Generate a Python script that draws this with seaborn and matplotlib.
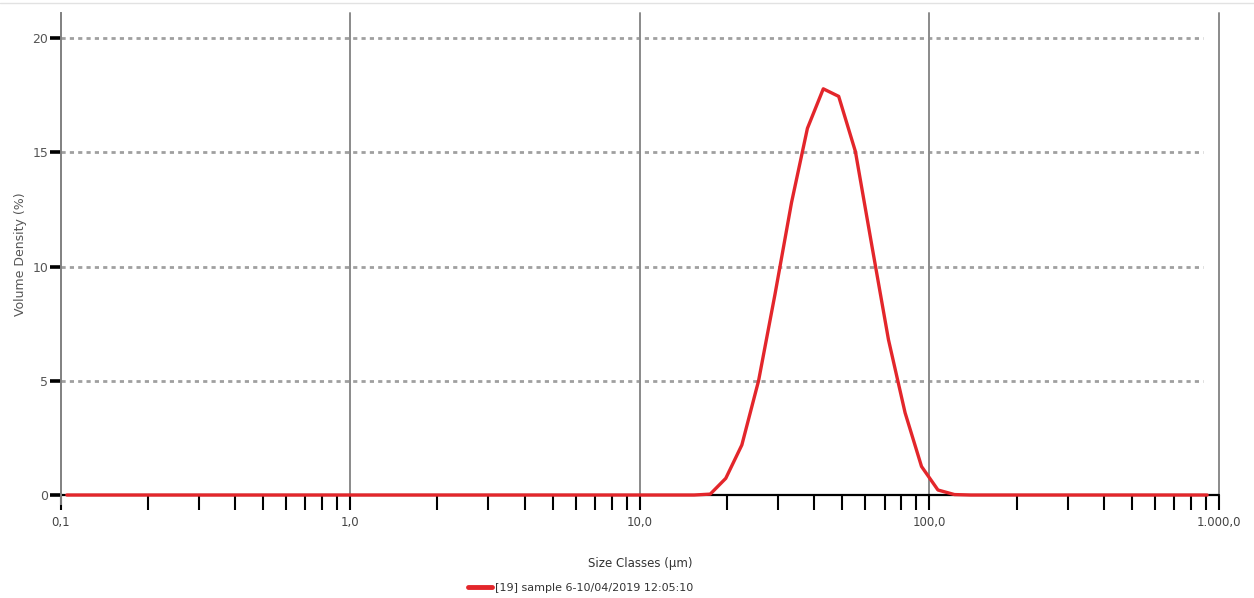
import numpy as np
import pandas as pd
import matplotlib
matplotlib.use("Agg")
import matplotlib.pyplot as plt
from matplotlib.lines import Line2D
from matplotlib.ticker import FixedLocator, FixedFormatter, NullFormatter
import seaborn as sns

# ---- data ----
size_um = [0.105, 0.3, 1.0, 3.0, 10.0, 15.4, 17.5, 19.8, 22.5, 25.7, 29.3, 33.4, 37.9,
           43.0, 48.6, 55.5, 63.3, 72.2, 82.4, 93.9, 107.0, 122.0, 139.0, 158.0,
           300.0, 600.0, 910.0]
volume_density = [0.0, 0.0, 0.0, 0.0, 0.0, 0.0, 0.04, 0.73, 2.19, 5.0, 8.8, 12.8, 16.05,
                  17.78, 17.45, 15.04, 10.9, 6.8, 3.6, 1.25, 0.22, 0.02, 0.0, 0.0,
                  0.0, 0.0, 0.0]
series_name = "[19] sample 6-10/04/2019 12:05:10"
x_major = [0.1, 1.0, 10.0, 100.0, 1000.0]
x_major_labels = ["0,1", "1,0", "10,0", "100,0", "1.000,0"]
y_ticks = [0, 5, 10, 15, 20]
y_tick_labels = ["0", "5", "10", "15", "20"]

df = pd.DataFrame({"size": size_um, "vd": volume_density, "series": series_name})

sns.set_theme(style="white")
plt.rcParams['font.family'] = ['DejaVu Sans']

fig = plt.figure(figsize=(12.54, 5.98), dpi=100)
ax = fig.add_axes([0.0484, 0.1722, 0.9237, 0.8061])

# faint top border line
fig.add_artist(Line2D([0, 1], [0.995, 0.995], color="#e2e2e2", lw=1.0, transform=fig.transFigure))

ax.set_xscale("log")
ax.set_xlim(0.1, 1000)
ax.set_ylim(0, 21.1)

# grid: dotted horizontal, solid vertical at decades
for yv in y_ticks[1:]:
    ax.hlines(yv, 0.1, 880, colors="#a0a0a0", linestyles=(0, (1.5, 1.5)), lw=2.0, zorder=1)
for xv in x_major[1:]:
    ax.axvline(xv, color="#8a8a8a", lw=1.4, zorder=1, clip_on=False)

# black x-axis line at 0
ax.axhline(0, color="black", lw=1.6, zorder=2, clip_on=False)

sns.lineplot(data=df, x="size", y="vd", hue="series", palette=["#e3262b"],
             ax=ax, lw=2.4, legend=False, zorder=3, clip_on=False, estimator=None, sort=False)

for s in ["top", "right", "bottom"]:
    ax.spines[s].set_visible(False)
ax.spines["left"].set_color("#808080")
ax.spines["left"].set_linewidth(1.4)
ax.spines["left"].set_bounds(-0.4, 21.1)

ax.xaxis.set_major_locator(FixedLocator(x_major))
ax.xaxis.set_major_formatter(FixedFormatter(x_major_labels))
minors = [m * d for d in [0.1, 1, 10, 100] for m in range(2, 10)]
ax.xaxis.set_minor_locator(FixedLocator(minors))
ax.xaxis.set_minor_formatter(NullFormatter())
ax.tick_params(axis="x", which="both", direction="out", length=11, width=1.5,
               color="black", bottom=True, pad=4, labelsize=8.5, labelcolor="#444444")

ax.set_yticks(y_ticks)
ax.set_yticklabels(y_tick_labels)
ax.tick_params(axis="y", which="major", direction="out", length=8, width=2.6,
               color="black", left=True, pad=1, labelsize=9, labelcolor="#555555")

ax.set_xlabel("Size Classes (µm)", fontsize=8.5, color="#333333", labelpad=20)
ax.set_ylabel("Volume Density (%)", fontsize=9, color="#555555", labelpad=4)

handle = Line2D([], [], color="#e3262b", lw=3.5)
fig.legend([handle], [series_name], loc="center", bbox_to_anchor=(0.463, 0.017),
           frameon=False, fontsize=8, handlelength=2.2, handletextpad=0.3,
           labelcolor="#333333")

fig.savefig("out.png", dpi=100)
